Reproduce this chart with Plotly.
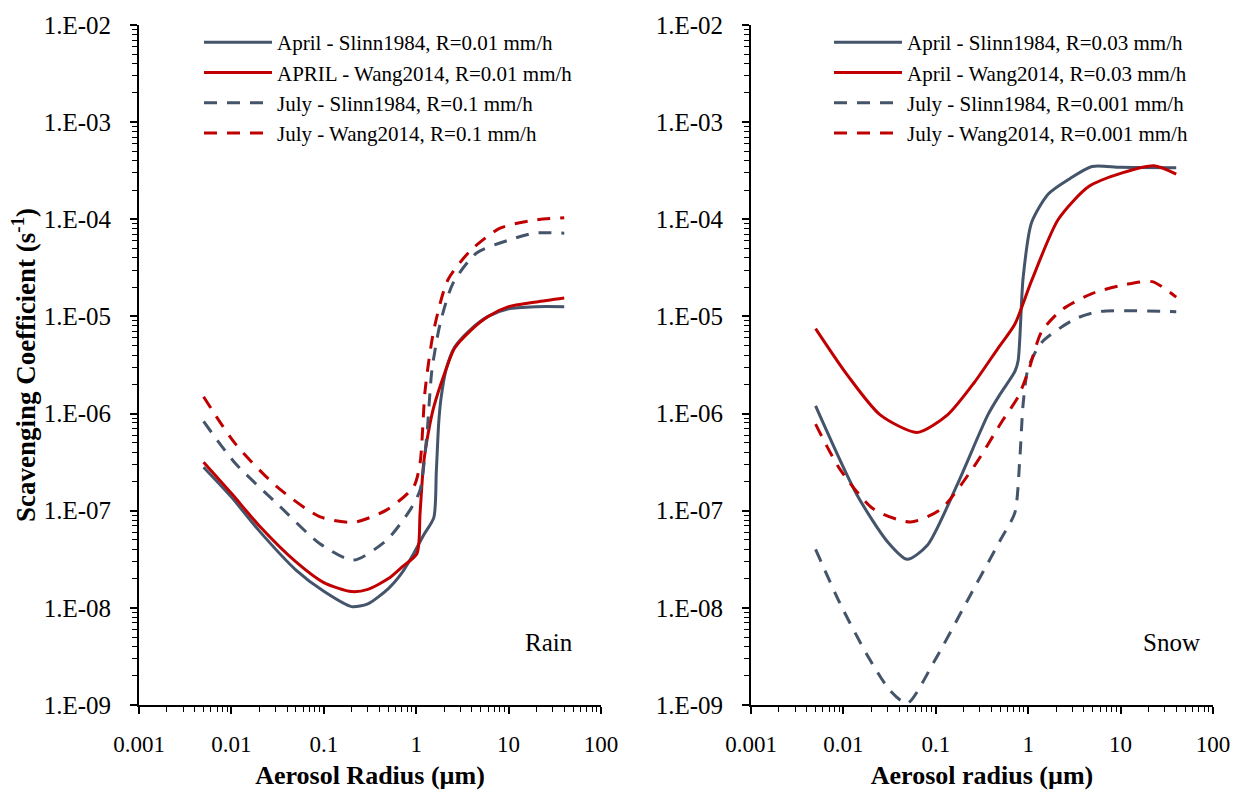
import plotly.graph_objects as go

# ---------------- data (radius in µm, scavenging coefficient in s^-1) ----------------
# Rain panel
rain_apr_slinn_x = [0.005, 0.01, 0.02, 0.05, 0.1, 0.2, 0.3, 0.5, 0.7, 0.94, 1.2, 1.55, 1.65, 1.75, 1.85, 2.1, 2.6, 3.8, 6, 10, 20, 40]
rain_apr_slinn_y = [2.8e-7, 1.38e-7, 6.2e-8, 2.45e-8, 1.48e-8, 1.03e-8, 1.1e-8, 1.58e-8, 2.29e-8, 3.63e-8, 5.6e-8, 8.5e-8, 2.5e-7, 7.9e-7, 1.4e-6, 2.8e-6, 4.8e-6, 7.2e-6, 1.0e-5, 1.2e-5, 1.26e-5, 1.26e-5]

rain_apr_wang_x = [0.005, 0.01, 0.02, 0.05, 0.1, 0.2, 0.3, 0.5, 0.7, 1.02, 1.1, 1.2, 1.35, 1.55, 2.0, 2.6, 3.9, 6, 10, 20, 40]
rain_apr_wang_y = [3.16e-7, 1.51e-7, 7.0e-8, 2.97e-8, 1.82e-8, 1.47e-8, 1.55e-8, 2.0e-8, 2.63e-8, 3.63e-8, 9.3e-8, 3.0e-7, 6.3e-7, 1.17e-6, 2.5e-6, 4.7e-6, 7.2e-6, 1.0e-5, 1.26e-5, 1.41e-5, 1.55e-5]

rain_jul_slinn_x = [0.005, 0.011, 0.031, 0.09, 0.21, 0.48, 0.86, 1.1, 1.3, 1.48, 1.82, 2.5, 4.5, 10, 19, 40]
rain_jul_slinn_y = [8.3e-7, 3.08e-7, 1.19e-7, 4.6e-8, 3.1e-8, 5.0e-8, 1.02e-7, 1.63e-7, 5.8e-7, 2.8e-6, 8.5e-6, 2.19e-5, 4.5e-5, 6.1e-5, 7.2e-5, 7.2e-5]

rain_jul_wang_x = [0.005, 0.011, 0.031, 0.09, 0.21, 0.48, 0.94, 1.1, 1.25, 1.55, 2.2, 3.9, 8.1, 19, 40]
rain_jul_wang_y = [1.49e-6, 4.9e-7, 1.77e-7, 8.7e-8, 7.6e-8, 1.02e-7, 1.77e-7, 3.08e-7, 1.75e-6, 7.2e-6, 2.37e-5, 4.8e-5, 8.1e-5, 9.8e-5, 1.04e-4]

# Snow panel
snow_apr_slinn_x = [0.005, 0.014, 0.03, 0.049, 0.081, 0.172, 0.366, 0.5, 0.716, 0.778, 0.881, 1.086, 1.65, 2.73, 4.9, 10, 40]
snow_apr_slinn_y = [1.2e-6, 1.46e-7, 4.8e-8, 3.16e-8, 4.4e-8, 1.89e-7, 9.7e-7, 1.6e-6, 2.7e-6, 3.5e-6, 2.5e-5, 9.2e-5, 1.82e-4, 2.57e-4, 3.5e-4, 3.43e-4, 3.4e-4]

snow_apr_wang_x = [0.005, 0.011, 0.025, 0.063, 0.134, 0.262, 0.471, 0.716, 1.086, 2.12, 4.52, 10.4, 23, 40]
snow_apr_wang_y = [7.5e-6, 2.5e-6, 9.7e-7, 6.4e-7, 9.7e-7, 2.1e-6, 4.7e-6, 8.3e-6, 2.32e-5, 1.0e-4, 2.17e-4, 3.0e-4, 3.56e-4, 2.92e-4]

snow_jul_slinn_x = [0.005, 0.0092, 0.018, 0.032, 0.049, 0.096, 0.221, 0.512, 0.716, 0.811, 0.881, 1.0, 1.4, 3.2, 5.8, 40]
snow_jul_slinn_y = [4.0e-8, 1.11e-8, 3.3e-9, 1.41e-9, 1.04e-9, 2.8e-9, 1.2e-8, 5.2e-8, 9.5e-8, 3.4e-7, 1.25e-6, 2.95e-6, 5.4e-6, 9.4e-6, 1.12e-5, 1.12e-5]

snow_jul_wang_x = [0.005, 0.0092, 0.0212, 0.0533, 0.1135, 0.262, 0.512, 0.778, 1.0, 1.4, 2.31, 4.9, 11.35, 22, 40]
snow_jul_wang_y = [7.8e-7, 2.66e-7, 1.04e-7, 7.65e-8, 1.04e-7, 2.9e-7, 8.1e-7, 1.49e-6, 2.7e-6, 7.0e-6, 1.17e-5, 1.72e-5, 2.13e-5, 2.28e-5, 1.58e-5]

rain_names = ["April - Slinn1984, R=0.01 mm/h", "APRIL - Wang2014, R=0.01 mm/h",
              "July - Slinn1984, R=0.1 mm/h", "July - Wang2014, R=0.1 mm/h"]
snow_names = ["April - Slinn1984, R=0.03 mm/h", "April - Wang2014, R=0.03 mm/h",
              "July - Slinn1984, R=0.001 mm/h", "July - Wang2014, R=0.001 mm/h"]

x_tick_vals = [0.001, 0.01, 0.1, 1, 10, 100]
x_tick_text = ["0.001", "0.01", "0.1", "1", "10", "100"]
y_tick_vals = [1e-9, 1e-8, 1e-7, 1e-6, 1e-5, 1e-4, 1e-3, 1e-2]
y_tick_text = ["1.E-09", "1.E-08", "1.E-07", "1.E-06", "1.E-05", "1.E-04", "1.E-03", "1.E-02"]

# ---------------- styling ----------------
GRAY = "#44546A"
RED = "#C00000"
FONT = "Liberation Serif, Times New Roman, serif"
DASH = "13px,10px"
W = 1237
H = 790

fig = go.Figure()

rain_series = [
    (rain_apr_slinn_x, rain_apr_slinn_y, GRAY, "solid"),
    (rain_apr_wang_x, rain_apr_wang_y, RED, "solid"),
    (rain_jul_slinn_x, rain_jul_slinn_y, GRAY, DASH),
    (rain_jul_wang_x, rain_jul_wang_y, RED, DASH),
]
snow_series = [
    (snow_apr_slinn_x, snow_apr_slinn_y, GRAY, "solid"),
    (snow_apr_wang_x, snow_apr_wang_y, RED, "solid"),
    (snow_jul_slinn_x, snow_jul_slinn_y, GRAY, DASH),
    (snow_jul_wang_x, snow_jul_wang_y, RED, DASH),
]

for (xs, ys, c, d), name in zip(rain_series, rain_names):
    fig.add_trace(go.Scatter(x=xs, y=ys, name=name, mode="lines",
                             line=dict(color=c, width=3, dash=d, shape="spline", smoothing=0.7),
                             xaxis="x", yaxis="y", legend="legend"))
for (xs, ys, c, d), name in zip(snow_series, snow_names):
    fig.add_trace(go.Scatter(x=xs, y=ys, name=name, mode="lines",
                             line=dict(color=c, width=3, dash=d, shape="spline", smoothing=0.7),
                             xaxis="x2", yaxis="y2", legend="legend2"))

minor_y = [k * 10.0 ** e for e in range(-9, -2) for k in range(2, 10)]
minor_x = [k * 10.0 ** e for e in range(-3, 2) for k in range(2, 10)]

def xaxis(dom, title, anchor):
    return dict(type="log", range=[-3, 2], domain=dom, anchor=anchor, automargin=False,
                showline=True, linecolor="black", linewidth=2, mirror=False,
                showgrid=False, zeroline=False,
                ticks="outside", ticklen=7, tickwidth=1.5, tickcolor="black",
                tickmode="array", tickvals=x_tick_vals, ticktext=x_tick_text,
                minor=dict(tickmode="array", tickvals=minor_x, ticks="outside",
                           ticklen=5, tickwidth=1.2, tickcolor="black", showgrid=False),
                tickfont=dict(family=FONT, size=23, color="black"),
                ticklabelstandoff=10,
                title=dict(text="<b>" + title + "</b>", font=dict(family=FONT, size=26, color="black"),
                           standoff=11))

def yaxis(dom, anchor, title=None):
    d = dict(type="log", range=[-9, -2], domain=dom, anchor=anchor, automargin=False,
             showline=True, linecolor="black", linewidth=2, mirror=False,
             showgrid=False, zeroline=False,
             ticks="outside", ticklen=7, tickwidth=1.5, tickcolor="black",
             tickmode="array", tickvals=y_tick_vals, ticktext=y_tick_text,
             minor=dict(tickmode="array", tickvals=minor_y, ticks="outside",
                        ticklen=5, tickwidth=1.2, tickcolor="black", showgrid=False),
             tickfont=dict(family=FONT, size=25, color="black"),
             ticklabelstandoff=14)
    if title:
        d["title"] = dict(text="<b>" + title + "</b>", font=dict(family=FONT, size=27, color="black"),
                          standoff=0)
    return d

ydom = [1 - 705 / H, 1 - 25 / H]
fig.update_layout(
    template="none",
    width=W, height=H, autosize=False,
    margin=dict(l=0, r=0, t=0, b=0, pad=0),
    paper_bgcolor="white", plot_bgcolor="white",
    font=dict(family=FONT, size=21, color="black"),
    xaxis=xaxis([139 / W, 601 / W], "Aerosol Radius (µm)", "y"),
    yaxis=yaxis(ydom, "x", "Scavenging Coefficient (s<sup>-1</sup>)"),
    xaxis2=xaxis([751 / W, 1213 / W], "Aerosol radius (µm)", "y2"),
    yaxis2=yaxis(ydom, "x2"),
    legend=dict(x=199 / W, y=1 - 22 / H, xanchor="left", yanchor="top",
                bgcolor="rgba(0,0,0,0)", font=dict(family=FONT, size=21, color="black"),
                tracegroupgap=0, borderwidth=0, itemwidth=68),
    legend2=dict(x=829 / W, y=1 - 22 / H, xanchor="left", yanchor="top",
                 bgcolor="rgba(0,0,0,0)", font=dict(family=FONT, size=21, color="black"),
                 tracegroupgap=0, borderwidth=0, itemwidth=68),
    annotations=[
        dict(text="Rain", x=1.44, y=-8.352, xref="x", yref="y", showarrow=False,
             font=dict(family=FONT, size=25, color="black"), xanchor="center", yanchor="middle"),
        dict(text="Snow", x=1.551, y=-8.352, xref="x2", yref="y2", showarrow=False,
             font=dict(family=FONT, size=25, color="black"), xanchor="center", yanchor="middle"),
    ],
)

fig.write_html("out.html", config={"displayModeBar": False},
               post_script="document.body.style.margin='0';")
